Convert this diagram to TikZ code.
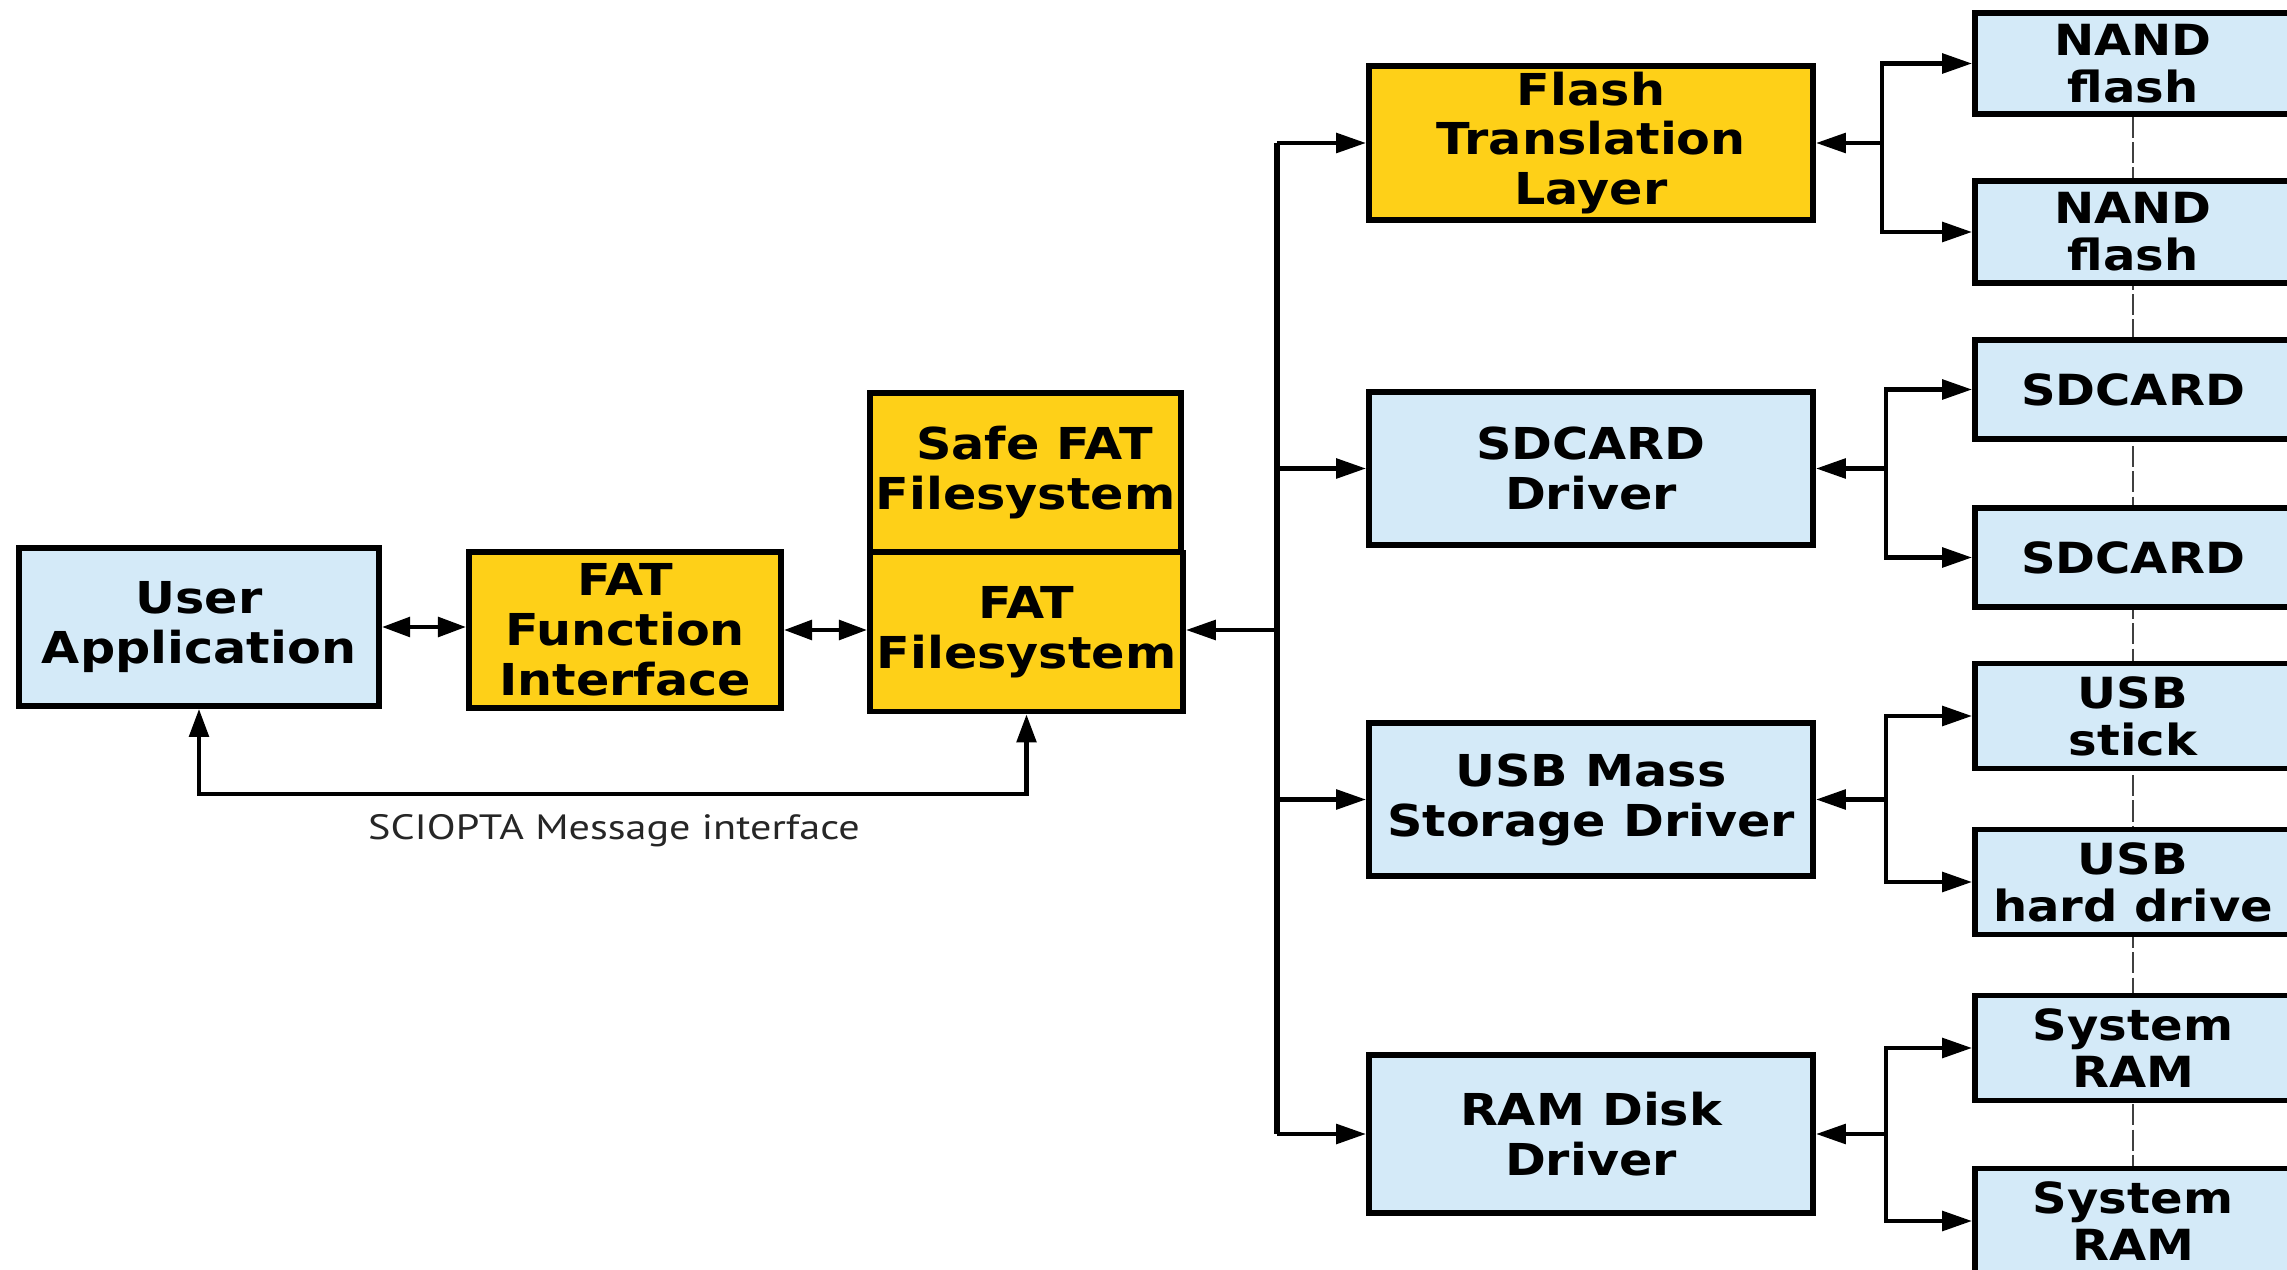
\documentclass[tikz,border=0pt]{standalone}
\usepackage{fontspec}
\usetikzlibrary{arrows.meta,backgrounds}
\newfontfamily\boxfont[FakeStretch=1.12]{DejaVu Sans}
\newfontfamily\capfont[FakeStretch=1.2]{PT Sans}
\definecolor{paleblue}{RGB}{212,234,248}
\definecolor{fsyellow}{RGB}{254,208,24}
\tikzset{
  blk/.style={draw=black, line width=1.6pt, align=center, inner sep=0pt,
    font=\boxfont\bfseries\fontsize{12.5}{14.2}\selectfont},
  bluebox/.style={blk, fill=paleblue},
  yelbox/.style={blk, fill=fsyellow},
  devbox/.style={bluebox, minimum width=3.16cm,
    font=\boxfont\bfseries\fontsize{12.2}{13.4}\selectfont},
  conn/.style={line width=1.3pt},
  arr/.style={conn, -{Triangle[length=8.5pt,width=5.5pt]}},
  darr/.style={conn, {Triangle[length=8pt,width=5.5pt]}-{Triangle[length=8pt,width=5.5pt]}},
  buswire/.style={line width=1.8pt},
  linkline/.style={line width=0.55pt, draw=black!75, dash pattern=on 6pt off 1.2pt}
}
\begin{document}
\begin{tikzpicture}[x=0.01cm,y=-0.01cm]
\useasboundingbox (0,0) rectangle (2287,1270);
\clip (0,0) rectangle (2287,1270);

% application side
\node[bluebox, minimum width=3.60cm, minimum height=1.58cm] (user) at (199,627) {User\\Application};
\node[yelbox, minimum width=3.12cm, minimum height=1.56cm] (ffi) at (625,630) {FAT\\Function\\Interface};
\node[yelbox, minimum width=3.11cm, minimum height=1.59cm] (safe) at (1025.5,472.5) {\hspace*{0.18cm}Safe FAT\\Filesystem};
\node[yelbox, minimum width=3.13cm, minimum height=1.59cm] (fatfs) at (1026.5,632) {FAT\\Filesystem};

% drivers
\node[yelbox, minimum width=4.44cm, minimum height=1.54cm] (ftl) at (1591,143) {Flash\\Translation\\Layer};
\node[bluebox, minimum width=4.44cm, minimum height=1.53cm] (sdd) at (1591,468.5) {SDCARD\\Driver};
\node[bluebox, minimum width=4.44cm, minimum height=1.53cm] (usbd) at (1591,799.5) {USB Mass\\Storage Driver};
\node[bluebox, minimum width=4.44cm, minimum height=1.58cm] (ramd) at (1591,1134) {RAM Disk\\Driver};

% storage devices
\node[devbox, minimum height=1.01cm] (nand1) at (2133,63.5) {NAND\\flash};
\node[devbox, minimum height=1.02cm] (nand2) at (2133,232) {NAND\\flash};
\node[devbox, minimum height=0.99cm] (sd1) at (2133,389.5) {SDCARD};
\node[devbox, minimum height=0.99cm] (sd2) at (2133,557.5) {SDCARD};
\node[devbox, minimum height=1.05cm] (usb1) at (2133,716) {USB\\stick};
\node[devbox, minimum height=1.05cm] (usb2) at (2133,882) {USB\\hard drive};
\node[devbox, minimum height=1.05cm] (ram1) at (2133,1048) {System\\RAM};
\node[devbox, minimum height=1.05cm] (ram2) at (2133,1221) {System\\RAM};

\begin{pgfonlayer}{background}
  \draw[linkline] (nand1.south) -- (ram2.north);
\end{pgfonlayer}

% function interface chain
\draw[darr] (user.east) -- (user.east -| ffi.west);
\draw[darr] (ffi.east) -- (ffi.east -| fatfs.west);

% message interface
\coordinate (msg) at (0,794);
\draw[darr] (user.south) -- (user.south |- msg) -| (fatfs.south);
\node[anchor=base, font=\capfont\fontsize{10}{12}\selectfont, text=black!85] (msgcap) at (614,840) {SCIOPTA Message interface};

% driver bus
\coordinate (bus) at (1277,630);
\draw[buswire] (bus |- ftl.west) -- (bus |- ramd.west);
\draw[arr] (bus) -- (bus -| fatfs.east);
\draw[arr] (bus |- ftl.west) -- (ftl.west);
\draw[arr] (bus |- sdd.west) -- (sdd.west);
\draw[arr] (bus |- usbd.west) -- (usbd.west);
\draw[arr] (bus |- ramd.west) -- (ramd.west);

% device forks
\path (ftl.east) ++(66,0) coordinate (f1);
\path (sdd.east) ++(70,0) coordinate (f2);
\path (usbd.east) ++(70,0) coordinate (f3);
\path (ramd.east) ++(70,0) coordinate (f4);
\draw[arr] (f1) -- (ftl.east);
\draw[arr] (f1) |- (nand1.west);
\draw[arr] (f1) |- (nand2.west);
\draw[arr] (f2) -- (sdd.east);
\draw[arr] (f2) |- (sd1.west);
\draw[arr] (f2) |- (sd2.west);
\draw[arr] (f3) -- (usbd.east);
\draw[arr] (f3) |- (usb1.west);
\draw[arr] (f3) |- (usb2.west);
\draw[arr] (f4) -- (ramd.east);
\draw[arr] (f4) |- (ram1.west);
\draw[arr] (f4) |- (ram2.west);
\end{tikzpicture}
\end{document}
